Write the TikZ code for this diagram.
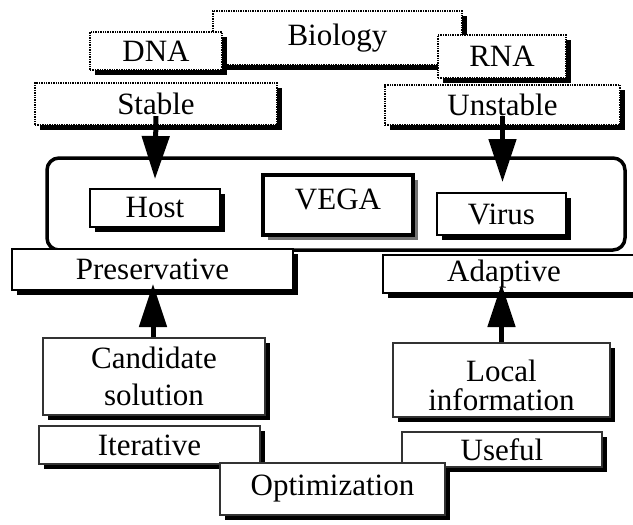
\documentclass[tikz,border=0pt]{standalone}
\usepackage{fontspec}
\setmainfont{Liberation Serif}
\usetikzlibrary{arrows.meta,shadows,calc}

\begin{document}
\begin{tikzpicture}[x=1pt,y=-1pt,
  base/.style={rectangle, fill=white, inner sep=0pt, align=center,
    font=\fontsize{31}{33}\selectfont},
  shade/.style={drop shadow={shadow xshift=5pt, shadow yshift=-5pt,
    fill=black, opacity=1}},
  dotbox/.style={base, shade, draw=black, line width=2.2pt,
    dash pattern=on 1.4pt off 1pt},
  solidbox/.style={base, shade, draw=black, line width=2pt},
  thinbox/.style={base, shade, draw=black!80, line width=1.3pt},
  corebox/.style={base, draw=black, line width=3.5pt,
    drop shadow={shadow xshift=5pt, shadow yshift=-5pt,
      fill=black!55, opacity=1}},
  frame/.style={draw=black, line width=3.5pt, rounded corners=12pt,
    inner sep=0pt},
  bigarrow/.style={draw=black, line width=5pt,
    -{Triangle[width=27pt,length=43pt]}},
]
\useasboundingbox (0,0) rectangle (633,525);

% top row: the biological view
\node[dotbox, minimum width=249pt, minimum height=54pt] (biology) at (337.5,38) {Biology};
\node[dotbox, minimum width=132pt, minimum height=38pt] (dna) at (156,51) {DNA};
\node[dotbox, minimum width=128pt, minimum height=43pt] (rna) at (502,56.5) {RNA};
\node[dotbox, minimum width=242pt, minimum height=42pt] (stable) at (156,104) {Stable};
\node[dotbox, minimum width=235pt, minimum height=40pt] (unstable) at (502.5,105) {Unstable};

% the VEGA core with its two populations
\node[frame, minimum width=578pt, minimum height=92pt] (core) at (336,204) {};
\node[solidbox, minimum width=130pt, minimum height=38pt] (host) at (155,208) {Host};
\node[corebox, minimum width=150pt, minimum height=60pt] (vega) at (338,205)
  {\raisebox{6pt}[\height][\depth]{VEGA}};
\node[solidbox, minimum width=129pt, minimum height=42pt] (virus) at (501.5,214) {Virus};

\node[solidbox, minimum width=281pt, minimum height=41pt] (pres) at (152.5,269.5) {Preservative};
\node[solidbox, minimum width=262pt, minimum height=38pt] (adaptive) at (514,274) {Adaptive\kern20pt};

% bottom row: the optimization view
\node[thinbox, minimum width=222pt, minimum height=77pt] (cand) at (154,376.5) {Candidate\\[4pt]solution};
\node[thinbox, minimum width=221pt, minimum height=38pt] (iter) at (149.5,445) {Iterative};
\node[thinbox, minimum width=217pt, minimum height=74pt] (local) at (501.5,380)
  {\raisebox{-5pt}[\height][\depth]{Local}\\[-4pt]\raisebox{-5pt}[\height][\depth]{information}};
\node[thinbox, minimum width=200pt, minimum height=35pt] (useful) at (502,449.5) {Useful};
\node[thinbox, minimum width=225pt, minimum height=52pt] (opt) at (332.5,489) {Optimization};

% arrows
\draw[bigarrow] ([yshift=10pt]stable.south) -- ([yshift=9pt]host.north);
\draw[bigarrow] ([yshift=10pt]unstable.south) -- ([yshift=10pt]unstable.south |- virus.north);
\draw[bigarrow] ([xshift=-1pt]cand.north) -- ([xshift=-1pt,yshift=7pt]cand.north |- pres.south);
\draw[bigarrow] (local.north) -- ([yshift=10pt]local.north |- adaptive.south);
\end{tikzpicture}
\end{document}
